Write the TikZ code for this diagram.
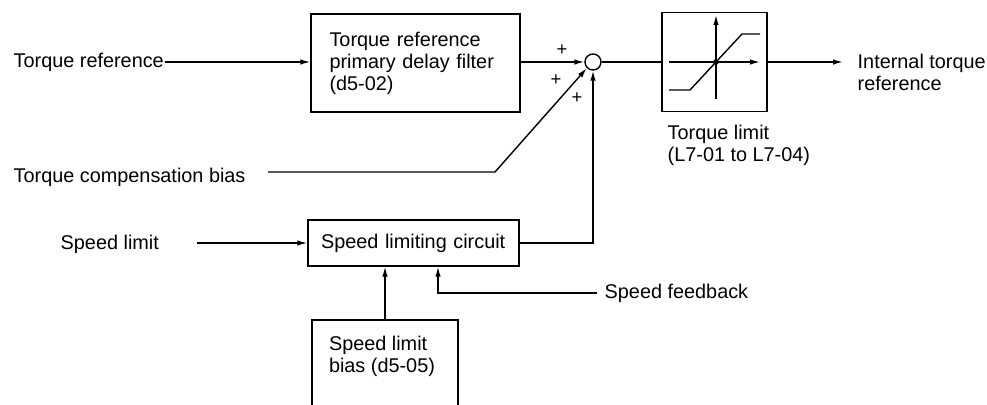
\documentclass[tikz,border=0pt]{standalone}
\usepackage{fontspec}
\setmainfont{Liberation Sans}
\usepackage{tikz}
\usetikzlibrary{arrows.meta,positioning,calc}

\begin{document}
\begin{tikzpicture}[x=0.02cm,y=-0.02cm,
  line width=0.8pt,
  font=\fontsize{11.3}{12.5}\selectfont,
  arr/.style={-{Latex[length=2mm,width=1.1mm]}},
  block/.style={draw,rectangle,inner sep=0pt},
  lbl/.style={inner sep=0pt,align=left},
  sign/.style={inner sep=0pt,font=\fontsize{10.5}{10.5}\selectfont}
]
  \useasboundingbox (0,0) rectangle (987,405);
  \clip (0,0) rectangle (987,405);

  % upper path
  \node[lbl,anchor=west] (tref) at (13,62) {Torque reference};
  \node[block,minimum width=4.18cm,minimum height=1.96cm,text width=3.44cm,inner xsep=0.37cm] (filter) at (415.5,63)
    {Torque reference\\primary delay filter\\(d5-02)};
  \node[draw,circle,minimum size=0.32cm,inner sep=0pt] (sum) at (593,62) {};
  \node[block,minimum width=2.1cm,minimum height=1.98cm] (tlim) at (714.5,62) {};
  \coordinate (outend) at (843,62);
  \node[lbl,anchor=west] (out) at (857,72) {Internal torque\\reference};
  \node[lbl,anchor=west] (tlimtxt) at (667,145) {Torque limit\\(L7-01 to L7-04)};

  \draw[arr] (tref.east) -- (filter.west |- tref.east);
  \draw[arr] (filter.east |- sum.west) -- (sum.west);
  \draw (sum.east) -- (tlim.west |- sum.east);
  \draw[arr] (tlim.east) -- (outend);

  % limiter characteristic
  \draw[arr] (669,62) -- (760,62);
  \draw[arr] (716,99) -- (716,15);
  \draw (669,90) -- (690,90) -- (742,34) -- (760,34);
  \fill (716,62) circle (1.6pt);

  \node[sign] (p1) at (562,50) {+};
  \node[sign] (p2) at (556,80) {+};
  \node[sign] (p3) at (577,98) {+};

  % compensation bias
  \node[lbl,anchor=west] (tcb) at (13,177) {Torque compensation bias};
  \coordinate (tcbstart) at (268,172);
  \coordinate (tcbbend) at (495,172);
  \draw[arr] (tcbstart) -- (tcbbend) -- (sum.south west);

  % speed limit path
  \node[lbl,anchor=west] (spd) at (60,244) {Speed limit};
  \coordinate (spdstart) at (197,243);
  \node[block,minimum width=4.22cm,minimum height=0.92cm,text width=3.7cm,inner xsep=0.26cm,align=left] (circuit) at (413.5,243)
    {Speed limiting circuit};
  \draw[arr] (spdstart) -- (circuit.west |- spdstart);
  \draw[arr] (circuit.east) -| (sum.south);

  \node[lbl,anchor=west] (fbk) at (604,293) {Speed feedback};
  \draw[arr] ([xshift=-4pt]fbk.west) -| ($(circuit.south)+(24.5,0)$);

  \node[block,minimum width=2.92cm,minimum height=1.84cm] (bias) at (385,366) {};
  \node[lbl,anchor=north west] (biastxt) at ([shift={(0.34cm,-0.32cm)}]bias.north west) {Speed limit\\bias (d5-05)};
  \draw[arr] (bias.north) -- (bias.north |- circuit.south);
\end{tikzpicture}
\end{document}
